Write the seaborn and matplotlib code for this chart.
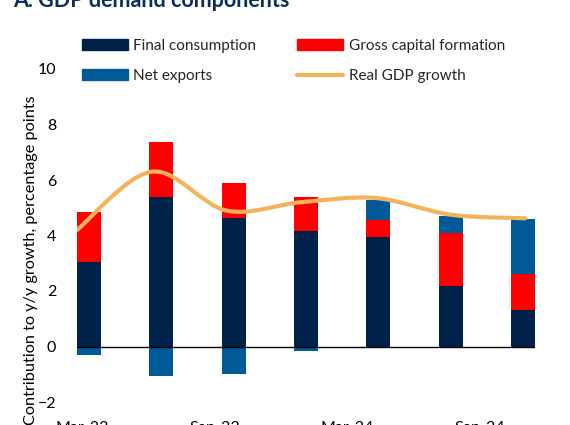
import matplotlib
import matplotlib.pyplot as plt
import numpy as np
import pandas as pd
import seaborn as sns
from matplotlib.lines import Line2D
from matplotlib.patches import PathPatch, Patch
from matplotlib.path import Path

matplotlib.use("Agg")

# --- DATA ---
quarters = ["Mar-23", "Jun-23", "Sep-23", "Dec-23", "Mar-24", "Jun-24", "Sep-24"]
tick_labels = ["Mar-23", "", "Sep-23", "", "Mar-24", "", "Sep-24"]
final_consumption = [3.04, 5.40, 4.64, 4.17, 3.93, 2.19, 1.33]
gross_capital = [1.81, 1.96, 1.26, 1.21, 0.64, 1.90, 1.30]
net_exports = [-0.29, -1.05, -0.98, -0.15, 0.72, 0.61, 1.97]
real_gdp = [4.2, 6.3, 4.9, 5.2, 5.35, 4.75, 4.62]
# ------------

NAVY = "#00214A"
RED = "#FF0000"
BLUE = "#005A97"
ORANGE = "#F4B35A"

df = pd.DataFrame(
    {
        "quarter": quarters,
        "fc": final_consumption,
        "gcf": gross_capital,
        "nx": net_exports,
    }
)
fc = df["fc"].to_numpy()
gcf = df["gcf"].to_numpy()
nx = df["nx"].to_numpy()
nx_bottom = np.where(nx > 0, fc + gcf, 0.0)

sns.set_style("white")
plt.rcParams["font.family"] = ["Lato", "DejaVu Sans"]

fig = plt.figure(figsize=(5.7, 4.25), dpi=100)
ax = fig.add_axes([77 / 570, 1 - 402 / 425, (535 - 77) / 570, (402 - 69) / 425])

bar_kw = dict(x="quarter", order=quarters, width=0.33, errorbar=None, linewidth=0, ax=ax)
sns.barplot(data=df, y="fc", color=NAVY, saturation=1, **bar_kw)
sns.barplot(data=df, y="gcf", bottom=fc, color=RED, saturation=1, **bar_kw)
sns.barplot(data=df, y="nx", bottom=nx_bottom, color=BLUE, saturation=1, **bar_kw)

ax.axhline(0, color="black", lw=1.0, zorder=3)
ax.set_xlim(-0.166, 6.166)
ax.set_ylim(-2, 10)
ax.set_yticks(range(-2, 11, 2))
ax.set_xticks([])
ax.set_xlabel("")
ax.set_ylabel("")
ax.tick_params(axis="y", length=0, pad=15, labelsize=11.5, labelcolor="black")
for s in ax.spines.values():
    s.set_visible(False)

# smoothed GDP line on its own category scale
ax_line = ax.twiny()
ax_line.set_xlim(0, 6.13)
ax_line.set_ylim(-2, 10)
pts = np.column_stack([np.arange(len(real_gdp)), real_gdp]).astype(float)
ext = np.vstack([pts[0], pts, pts[-1]])
verts = [pts[0]]
codes = [Path.MOVETO]
for i in range(len(pts) - 1):
    p0, p1, p2, p3 = ext[i], ext[i + 1], ext[i + 2], ext[i + 3]
    verts += [p1 + (p2 - p0) / 6, p2 - (p3 - p1) / 6, p2]
    codes += [Path.CURVE4] * 3
ax_line.add_patch(
    PathPatch(Path(verts, codes), facecolor="none", edgecolor=ORANGE, lw=3.0,
              capstyle="round", zorder=4)
)
ax_line.axis("off")

# date labels
ax_lab = ax.twiny()
ax_lab.set_xlim(-0.075, 6.83)
ax_lab.xaxis.set_ticks_position("bottom")
ax_lab.set_xticks(range(len(quarters)))
ax_lab.set_xticklabels(tick_labels)
ax_lab.tick_params(axis="x", length=0, pad=14, labelsize=11.5, labelcolor="black")
for s in ax_lab.spines.values():
    s.set_visible(False)

fig.text(31 / 570, 1 - 260 / 425, "Contribution to y/y growth, percentage points",
         rotation=90, ha="center", va="center", fontsize=11.7, color="black")

fig.text(13 / 570, 1 - 7 / 425, "A. GDP demand components", ha="left",
         va="baseline", fontsize=15.5, fontweight="bold", color="#0B2D5B")

handles = [
    Patch(color=NAVY, label="Final consumption"),
    Patch(color=BLUE, label="Net exports"),
    Patch(color=RED, label="Gross capital formation"),
    Line2D([0], [0], color=ORANGE, lw=3, label="Real GDP growth"),
]
fig.legend(
    handles=handles,
    ncol=2,
    loc="upper left",
    bbox_to_anchor=(82 / 570, 1 - 39 / 425),
    frameon=False,
    fontsize=11,
    handlelength=3.0,
    handleheight=0.7,
    handletextpad=0.35,
    columnspacing=2.7,
    labelspacing=1.05,
    borderpad=0,
    borderaxespad=0,
)

fig.savefig("out.png", dpi=100)
